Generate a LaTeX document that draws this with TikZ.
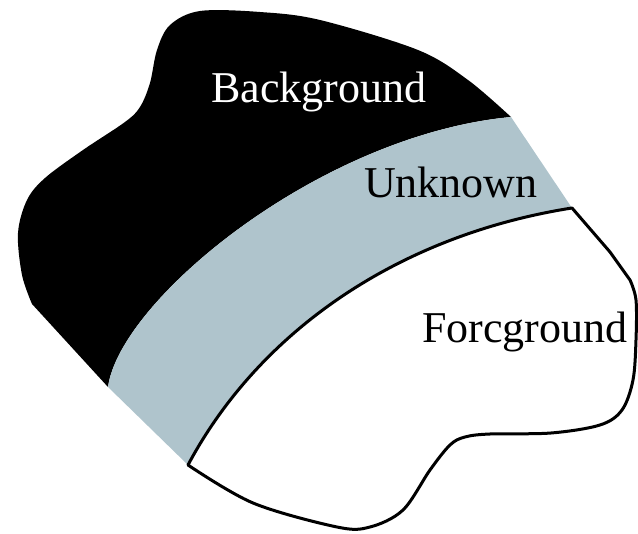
\documentclass[tikz,border=0pt]{standalone}
\usepackage{fontspec}
\setmainfont{Liberation Serif}
\definecolor{unkgrey}{RGB}{175,196,204}
\tikzset{
  lbl/.style={anchor=base west, inner sep=0pt, font=\fontsize{44}{48}\selectfont},
  outline/.style={line width=3pt, line join=round},
}
\begin{document}
\begin{tikzpicture}[x=1pt,y=-1pt]
\useasboundingbox (0,0) rectangle (638,534);
\coordinate (bl) at (108,387);   % black/grey meets outer edge, left
\coordinate (br) at (511,117);   % black/grey meets outer edge, right
\coordinate (fl) at (188,465);   % grey/fg meets outer edge, left
\coordinate (fr) at (572,208);   % grey/fg meets outer edge, right
% background (black)
\fill[black] (bl) -- (32,304)
  -- plot[smooth, tension=0.55] coordinates {(32,304) (22,275) (18,233) (27,200) (45,178) (83,150) (125,122) (140,107) (150,83) (157,50) (170,25) (200,11) (260,12) (320,20) (418,50) (468,80) (511,117)}
  .. controls (320,135) and (120,300) .. (bl) -- cycle;
% unknown (grey band)
\fill[unkgrey] (bl) -- (fl)
  .. controls (260,330) and (400,235) .. (fr)
  -- (br)
  .. controls (320,135) and (120,300) .. (bl) -- cycle;
% foreground
\filldraw[fill=white, draw=black, outline] (fl)
  .. controls (260,330) and (400,235) .. (fr)
  -- (610,252) -- (630,280)
  -- plot[smooth, tension=0.55] coordinates {(630,280) (636,300) (636,340) (633,380) (622,410) (600,425) (551,433) (490,434) (465,437) (450,445) (430,470) (403,510) (370,527) (337,527) (253,503) (188,465)}
  -- cycle;
% labels
\node[lbl, text=white] (bg) at (211,103) {Background};
\node[lbl, text=black] (unk) at (364,198) {Unknown};
\node[lbl, text=black] (fg) at (422,343) {Forcground};
\end{tikzpicture}
\end{document}
